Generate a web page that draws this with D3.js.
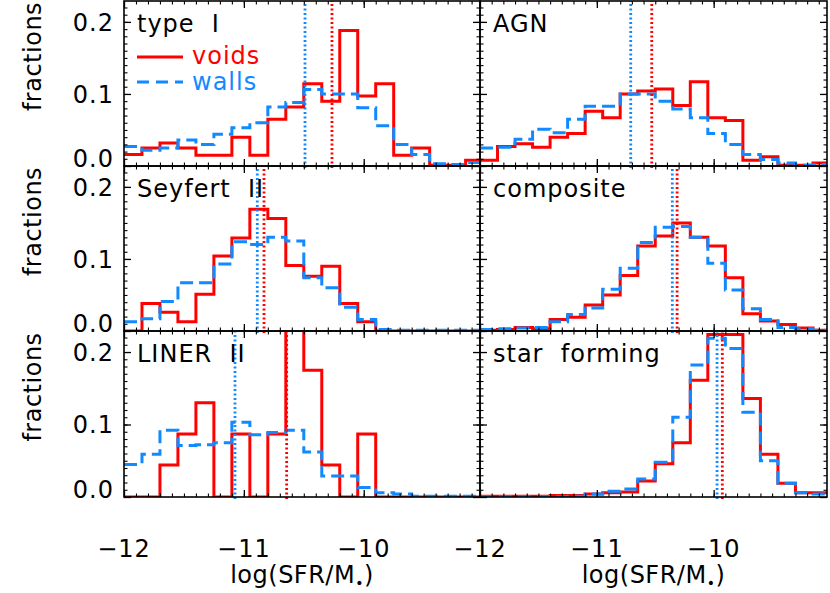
<!DOCTYPE html>
<html>
<head>
<meta charset="utf-8">
<script src="https://cdn.jsdelivr.net/npm/d3@7"></script>
<style>
body { margin: 0; background: #fff; }
text { font-family: "DejaVu Sans", sans-serif; }
</style>
</head>
<body>
<script>
// bin edges in log(SFR/M*)
var binEdges = [-12.00, -11.85, -11.70, -11.55, -11.40, -11.25, -11.10, -10.95, -10.80, -10.65,
                -10.50, -10.35, -10.20, -10.05, -9.90, -9.75, -9.60, -9.45, -9.30, -9.15, -9.00];

var panelNames = ["type  I", "AGN", "Seyfert  II", "composite", "LINER  II", "star  forming"];

var voidsTypeI = [0.016, 0.025, 0.032, 0.025, 0.015, 0.015, 0.040, 0.015, 0.065, 0.082,
                  0.114, 0.090, 0.188, 0.097, 0.114, 0.015, 0.025, 0.001, 0.001, 0.008];
var wallsTypeI = [0.027, 0.022, 0.025, 0.036, 0.030, 0.044, 0.053, 0.060, 0.082, 0.088,
                  0.106, 0.100, 0.100, 0.081, 0.056, 0.030, 0.016, 0.003, 0.002, 0.005];

var voidsAGN = [0.008, 0.027, 0.031, 0.026, 0.040, 0.045, 0.076, 0.067, 0.100, 0.104,
                0.107, 0.084, 0.117, 0.067, 0.063, 0.008, 0.013, 0.001, 0.001, 0.004];
var wallsAGN = [0.025, 0.026, 0.037, 0.051, 0.046, 0.065, 0.083, 0.083, 0.100, 0.100,
                0.090, 0.079, 0.067, 0.045, 0.030, 0.016, 0.009, 0.004, 0.001, 0.002];

var voidsSeyfert = [0.000, 0.038, 0.026, 0.013, 0.051, 0.104, 0.129, 0.169, 0.156, 0.091,
                    0.076, 0.090, 0.038, 0.013, 0.000, 0.000, 0.000, 0.000, 0.000, 0.000];
var wallsSeyfert = [0.013, 0.017, 0.041, 0.067, 0.067, 0.093, 0.124, 0.120, 0.130, 0.125,
                    0.074, 0.060, 0.033, 0.016, 0.002, 0.001, 0.001, 0.001, 0.001, 0.001];

var voidsComposite = [0.001, 0.002, 0.005, 0.003, 0.016, 0.019, 0.036, 0.050, 0.077, 0.118,
                      0.132, 0.150, 0.130, 0.118, 0.074, 0.024, 0.014, 0.009, 0.004, 0.001];
var wallsComposite = [0.002, 0.003, 0.004, 0.005, 0.013, 0.023, 0.032, 0.058, 0.087, 0.123,
                      0.144, 0.145, 0.130, 0.094, 0.057, 0.031, 0.016, 0.005, 0.003, 0.001];

var voidsLiner = [0.000, 0.000, 0.044, 0.087, 0.130, 0.000, 0.087, 0.000, 0.087, 0.270,
                  0.175, 0.044, 0.000, 0.087, 0.000, 0.000, 0.000, 0.000, 0.000, 0.000];
var wallsLiner = [0.045, 0.059, 0.092, 0.071, 0.072, 0.075, 0.103, 0.086, 0.089, 0.092,
                  0.062, 0.029, 0.029, 0.013, 0.006, 0.004, 0.001, 0.001, 0.001, 0.001];

var voidsStarForming = [0.001, 0.001, 0.001, 0.001, 0.002, 0.002, 0.004, 0.006, 0.007, 0.022,
                        0.046, 0.075, 0.161, 0.224, 0.224, 0.136, 0.059, 0.019, 0.006, 0.006];
var wallsStarForming = [0.0005, 0.0005, 0.0005, 0.0005, 0.0005, 0.001, 0.004, 0.008, 0.011, 0.025,
                        0.048, 0.110, 0.182, 0.219, 0.205, 0.117, 0.050, 0.019, 0.006, 0.004];

var medianVoids = [-10.265, -10.53, -10.832, -10.313, -10.643, -9.926];
var medianWalls = [-10.49, -10.71, -10.888, -10.354, -11.074, -9.971];

var xTickValues = [-12, -11, -10];
var yTickValues = [0.0, 0.1, 0.2];

var voidsAll = [voidsTypeI, voidsAGN, voidsSeyfert, voidsComposite, voidsLiner, voidsStarForming];
var wallsAll = [wallsTypeI, wallsAGN, wallsSeyfert, wallsComposite, wallsLiner, wallsStarForming];

var red = "#ff0000";
var blue = "#1189ff";

var cols = [{x0: 124, x1: 480}, {x0: 480, x1: 827}];
var rows = [{y0: 1, y1: 166}, {y0: 166, y1: 331}, {y0: 331, y1: 497}];

var svg = d3.select("body").append("svg")
    .attr("width", 830)
    .attr("height", 593);

var defs = svg.append("defs");

var xMinor = d3.range(-11.9, -9.02, 0.1);
var yMinor = d3.range(0.01, 0.229, 0.01);

function stepLine(x, y) {
    return d3.line()
        .x(function (d) { return x(d[0]); })
        .y(function (d) { return y(d[1]); })
        .curve(d3.curveStepAfter);
}

function stepPoints(vals) {
    var pts = vals.map(function (v, i) { return [binEdges[i], v]; });
    pts.push([binEdges[vals.length], vals[vals.length - 1]]);
    return pts;
}

panelNames.forEach(function (name, i) {
    var c = cols[i % 2], r = rows[Math.floor(i / 2)];
    var x = d3.scaleLinear().domain([-12, -9.03]).range([c.x0, c.x1]);
    var y = d3.scaleLinear().domain([0, 0.229]).range([r.y1, r.y0]);
    var g = svg.append("g");

    defs.append("clipPath").attr("id", "clip" + i)
        .append("rect")
        .attr("x", c.x0).attr("y", r.y0)
        .attr("width", c.x1 - c.x0).attr("height", r.y1 - r.y0);

    var plot = g.append("g").attr("clip-path", "url(#clip" + i + ")");
    var line = stepLine(x, y);

    plot.append("path")
        .attr("d", line(stepPoints(voidsAll[i])))
        .attr("fill", "none")
        .attr("stroke", red)
        .attr("stroke-width", 3);

    plot.append("path")
        .attr("d", line(stepPoints(wallsAll[i])))
        .attr("fill", "none")
        .attr("stroke", blue)
        .attr("stroke-width", 3)
        .attr("stroke-dasharray", "13,6");

    // medians
    g.append("line")
        .attr("x1", x(medianWalls[i])).attr("x2", x(medianWalls[i]))
        .attr("y1", r.y1 + 2).attr("y2", r.y0)
        .attr("stroke", blue).attr("stroke-width", 2.8)
        .attr("stroke-dasharray", "2,2.5");
    g.append("line")
        .attr("x1", x(medianVoids[i])).attr("x2", x(medianVoids[i]))
        .attr("y1", r.y1 + 2).attr("y2", r.y0)
        .attr("stroke", red).attr("stroke-width", 2.8)
        .attr("stroke-dasharray", "2,2.5");

    // ticks on all four sides, pointing inward
    var axes = [
        [d3.axisBottom(x), "translate(0," + r.y1 + ")", xTickValues, xMinor],
        [d3.axisTop(x), "translate(0," + r.y0 + ")", xTickValues, xMinor],
        [d3.axisLeft(y), "translate(" + c.x0 + ",0)", yTickValues, yMinor],
        [d3.axisRight(y), "translate(" + c.x1 + ",0)", yTickValues, yMinor]
    ];
    axes.forEach(function (a) {
        var major = a[0].tickValues(a[2]).tickSize(-7).tickFormat("");
        g.append("g").attr("transform", a[1]).call(major)
            .call(function (s) { s.select(".domain").remove(); })
            .selectAll("line").attr("stroke-width", 1.3);
        var minor = a[0].tickValues(a[3]).tickSize(-3.5).tickFormat("");
        g.append("g").attr("transform", a[1]).call(minor)
            .call(function (s) { s.select(".domain").remove(); })
            .selectAll("line").attr("stroke-width", 1.1);
    });

    g.append("rect")
        .attr("x", c.x0).attr("y", r.y0)
        .attr("width", c.x1 - c.x0).attr("height", r.y1 - r.y0)
        .attr("fill", "none").attr("stroke", "#000").attr("stroke-width", 1.6);

    // tick labels
    if (i % 2 === 0) {
        g.append("g").attr("transform", "translate(" + (c.x0 - 10) + ",0)")
            .selectAll("text").data(yTickValues).enter().append("text")
            .attr("x", 0).attr("y", function (d) { return y(d) - (d === 0 ? 8 : 0); })
            .attr("dy", "0.36em")
            .attr("text-anchor", "end")
            .attr("font-size", 24).attr("letter-spacing", 1)
            .text(d3.format(".1f"));
        g.append("text")
            .attr("transform", "translate(41," + ((r.y0 + r.y1) / 2 - 27) + ") rotate(-90)")
            .attr("text-anchor", "middle")
            .attr("font-size", 24).attr("letter-spacing", 0.5)
            .text("fractions");
    }
    if (i >= 4) {
        g.append("g")
            .selectAll("text").data(xTickValues).enter().append("text")
            .attr("x", function (d) { return x(d); }).attr("y", 557)
            .attr("text-anchor", "middle")
            .attr("font-size", 24).attr("letter-spacing", 1)
            .text(function (d) { return "\u2212" + Math.abs(d); });
        var lab = g.append("text")
            .attr("x", (c.x0 + c.x1) / 2).attr("y", 583)
            .attr("text-anchor", "middle")
            .attr("font-size", 24).attr("letter-spacing", 0.5);
        lab.append("tspan").text("log(SFR/M");
        lab.append("tspan").attr("font-size", 14).attr("dy", 5).text("\u2022");
        lab.append("tspan").attr("dy", -5).text(")");
    }

    g.append("text")
        .attr("x", c.x0 + 13).attr("y", r.y0 + 31)
        .attr("font-size", 24).attr("letter-spacing", 1)
        .style("white-space", "pre")
        .text(name);
});

// legend in the first panel
var leg = svg.append("g");
leg.append("line").attr("x1", 137).attr("x2", 183).attr("y1", 57).attr("y2", 57)
    .attr("stroke", red).attr("stroke-width", 3);
leg.append("text").attr("x", 192).attr("y", 64).attr("fill", red)
    .attr("font-size", 24).attr("letter-spacing", 1).text("voids");
leg.append("line").attr("x1", 137).attr("x2", 183).attr("y1", 82).attr("y2", 82)
    .attr("stroke", blue).attr("stroke-width", 3).attr("stroke-dasharray", "12,7");
leg.append("text").attr("x", 192).attr("y", 90).attr("fill", blue)
    .attr("font-size", 24).attr("letter-spacing", 1).text("walls");
</script>
</body>
</html>
